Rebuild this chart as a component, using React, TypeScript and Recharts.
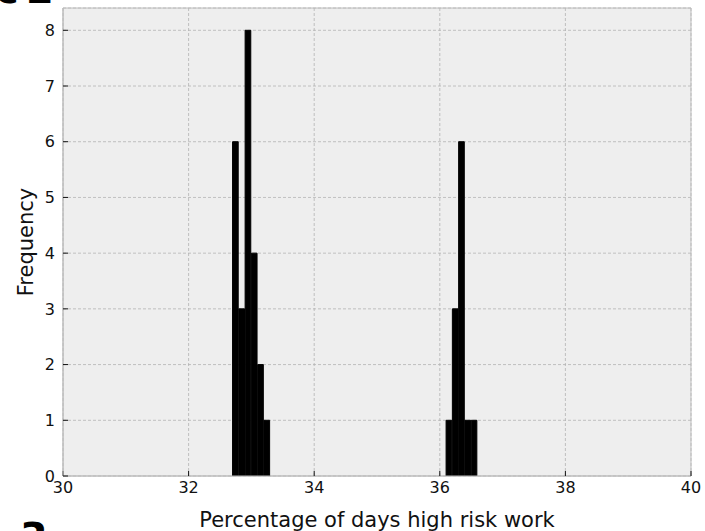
import React from 'react';
import { ComposedChart, Bar, XAxis, YAxis, CartesianGrid, ReferenceArea } from 'recharts';

// Histogram bins (centres, width 0.1) and their frequencies
const binCenters = [32.75, 32.85, 32.95, 33.05, 33.15, 33.25, 36.15, 36.25, 36.35, 36.45, 36.55];
const frequencies = [6, 3, 8, 4, 2, 1, 1, 3, 6, 1, 1];
const xTicks = [30, 32, 34, 36, 38, 40];
const yTicks = [0, 1, 2, 3, 4, 5, 6, 7, 8];
const BIN_WIDTH = 0.1;
const X_DOMAIN: [number, number] = [30, 40];
const Y_DOMAIN: [number, number] = [0, 8.4];
const X_LABEL = 'Percentage of days high risk work';
const Y_LABEL = 'Frequency';

const W = 705;
const H = 531;
const MARGIN = { top: 8, right: 14, bottom: 0, left: 0 };
const Y_AXIS_W = 63;
const X_AXIS_H = 55;
const PLOT_W = W - MARGIN.left - MARGIN.right - Y_AXIS_W;
const BAR_SIZE = (PLOT_W / (X_DOMAIN[1] - X_DOMAIN[0])) * BIN_WIDTH;

const FONT = "'DejaVu Sans', sans-serif";
const TEXT = '#111';

const data = binCenters.map((x, i) => ({ x, count: frequencies[i] }));

export default function App() {
  return (
    <div style={{ position: 'absolute', left: 0, top: 0, width: W, height: H, fontFamily: FONT }}>
      <ComposedChart width={W} height={H} data={data} margin={MARGIN} style={{ fontFamily: FONT }}>
        <CartesianGrid fill="#eeeeee" stroke="#b2b2b2" strokeDasharray="3 2" strokeWidth={0.8} />
        <XAxis
          dataKey="x"
          type="number"
          domain={X_DOMAIN}
          ticks={xTicks}
          interval={0}
          height={X_AXIS_H}
          tickSize={-5}
          tickMargin={11}
          tickLine={{ stroke: TEXT }}
          axisLine={{ stroke: '#bcbcbc' }}
          tick={{ fontSize: 16, fill: TEXT }}
          allowDataOverflow
          label={{ value: X_LABEL, position: 'insideBottom', offset: 4, fontSize: 21, fill: TEXT }}
        />
        <YAxis
          type="number"
          domain={Y_DOMAIN}
          ticks={yTicks}
          interval={0}
          width={Y_AXIS_W}
          tickSize={-5}
          tickMargin={13}
          tickLine={{ stroke: TEXT }}
          axisLine={{ stroke: '#bcbcbc' }}
          tick={{ fontSize: 16, fill: TEXT }}
          allowDataOverflow
          label={{ value: Y_LABEL, angle: -90, position: 'insideLeft', offset: 25.5, fontSize: 21, fill: TEXT, style: { textAnchor: 'middle' } }}
        />
        <Bar dataKey="count" fill="#000" stroke="#000" strokeWidth={1} barSize={BAR_SIZE} isAnimationActive={false} />
        <ReferenceArea x1={X_DOMAIN[0]} x2={X_DOMAIN[1]} y1={Y_DOMAIN[0]} y2={Y_DOMAIN[1]} fill="none" fillOpacity={0} stroke="#bcbcbc" strokeWidth={1} />
      </ComposedChart>
      <svg width={W} height={H} style={{ position: 'absolute', left: 0, top: 0, pointerEvents: 'none' }}>
        <text x={-5} y={3} fontSize={40} fontWeight="bold" fill="#000" fontFamily={FONT}>c</text>
        <text x={26} y={3} fontSize={40} fontWeight="bold" fill="#000" fontFamily={FONT}>2</text>
        <text x={20} y={552} fontSize={40} fontWeight="bold" fill="#000" fontFamily={FONT}>3</text>
      </svg>
    </div>
  );
}
